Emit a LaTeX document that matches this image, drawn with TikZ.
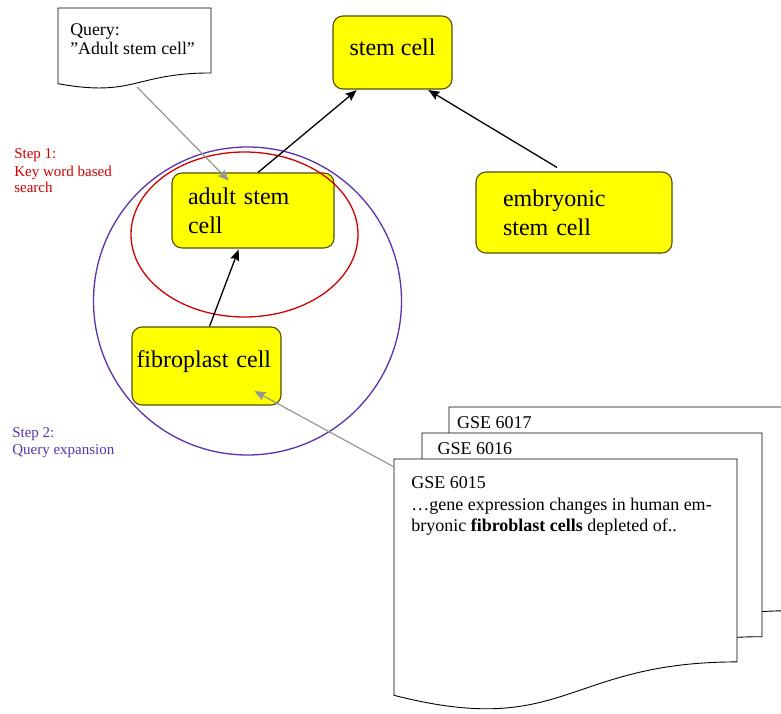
\documentclass[tikz,border=0pt]{standalone}
\usepackage{fontspec}
\setmainfont{Liberation Serif}
\usetikzlibrary{arrows.meta,calc}

\definecolor{cellyellow}{RGB}{255,255,0}
\definecolor{cellrim}{RGB}{80,80,10}
\definecolor{stepred}{RGB}{204,0,0}
\definecolor{steppurple}{RGB}{90,50,170}
\definecolor{linkgray}{RGB}{150,150,150}

% sheet with wavy bottom: left, top, width, height
\newcommand{\wavydoc}[4]{%
  \draw[docline] (#1,#2) -- ({#1+#3},#2) -- ({#1+#3},{#2+0.802*#4})
    .. controls ({#1+#3/2},{#2+0.802*#4}) and ({#1+#3/2},{#2+1.1075*#4}) .. (#1,{#2+0.934*#4}) -- cycle;}

\begin{document}
\begin{tikzpicture}[x=1pt,y=-1pt,->,>={Stealth[length=11pt,width=9pt,inset=1.5pt]},shorten >=1pt,semithick]
  \tikzstyle{cell}=[draw=cellrim,fill=cellyellow,rounded corners=10pt,line width=1.1pt,font=\fontsize{24}{29}\selectfont,align=left,inner ysep=0pt]
  \tikzstyle{docline}=[-,draw=black,fill=white,line width=0.9pt]
  \tikzstyle{doctext}=[font=\fontsize{18}{21.5}\selectfont,align=left,inner sep=0pt,anchor=base west]
  \tikzstyle{steptext}=[font=\fontsize{15}{17}\selectfont,align=left,inner sep=0pt,anchor=base west]
  \tikzstyle{isa}=[black,line width=1.3pt]
  \tikzstyle{hint}=[linkgray,line width=1.2pt]

  \clip (0,0) rectangle (781,714);

  % query sheet (text placed by its last baseline)
  \wavydoc{58}{8}{153}{81}
  \node[doctext,font=\fontsize{17.8}{19.5}\selectfont] (query) at (70,55) {Query:\\”Adult stem cell”};
  \coordinate (qfoot) at (137,87);

  % GEO records
  \wavydoc{449}{407}{343}{254}
  \wavydoc{422}{433}{340}{254}
  \wavydoc{394}{459}{343}{253}
  \node[doctext] (gse17) at (456.7,428.3) {GSE 6017};
  \node[doctext] (gse16) at (437.3,454) {GSE 6016};
  \node[doctext] (gse15) at (411,531.7) {GSE 6015\\…gene expression changes in human em-\\bryonic \textbf{fibroblast cells} depleted of..};
  \coordinate (gseside) at (394,467);

  % concepts
  \node[cell,minimum width=119pt,minimum height=73pt,text depth=11pt] (stem) at (392.5,52.5) {stem cell};
  \node[cell,text width=130pt,minimum width=162pt,minimum height=75pt] (adult) at (253,210.5) {adult stem\\cell};
  \node[cell,text width=142pt,minimum width=196pt,minimum height=81pt] (embryo) at (574,212.5) {embryonic\\stem cell};
  \node[cell,text width=140pt,minimum width=149pt,minimum height=78pt,text depth=14pt] (fib) at (206.5,366) {fibroplast cell};

  % search steps
  \draw[-,stepred,line width=1.3pt] (244.5,234.5) ellipse [x radius=113.5pt,y radius=82.5pt];
  \draw[-,steppurple,line width=1.3pt] (247.5,301) circle [radius=154pt];
  \node[steptext,text=stepred] (step1) at (14,193) {Step 1:\\Key word based\\search};
  \node[steptext,text=steppurple] (step2) at (12,454) {Step 2:\\Query expansion};

  \path[isa]
  ($(adult.north)+(5,0)$) edge ($(stem.south west)+(25,0)$)
  ($(embryo.north)+(-17,-4)$) edge ($(stem.south east)+(-25,0)$)
  ($(fib.north)+(3,0)$) edge ($(adult.south)+(-14,0)$);

  \path[hint]
  (qfoot) edge ($(adult.north west)+(58,9)$)
  (gseside) edge ($(fib.south east)+(-28,-15)$);
\end{tikzpicture}
\end{document}
